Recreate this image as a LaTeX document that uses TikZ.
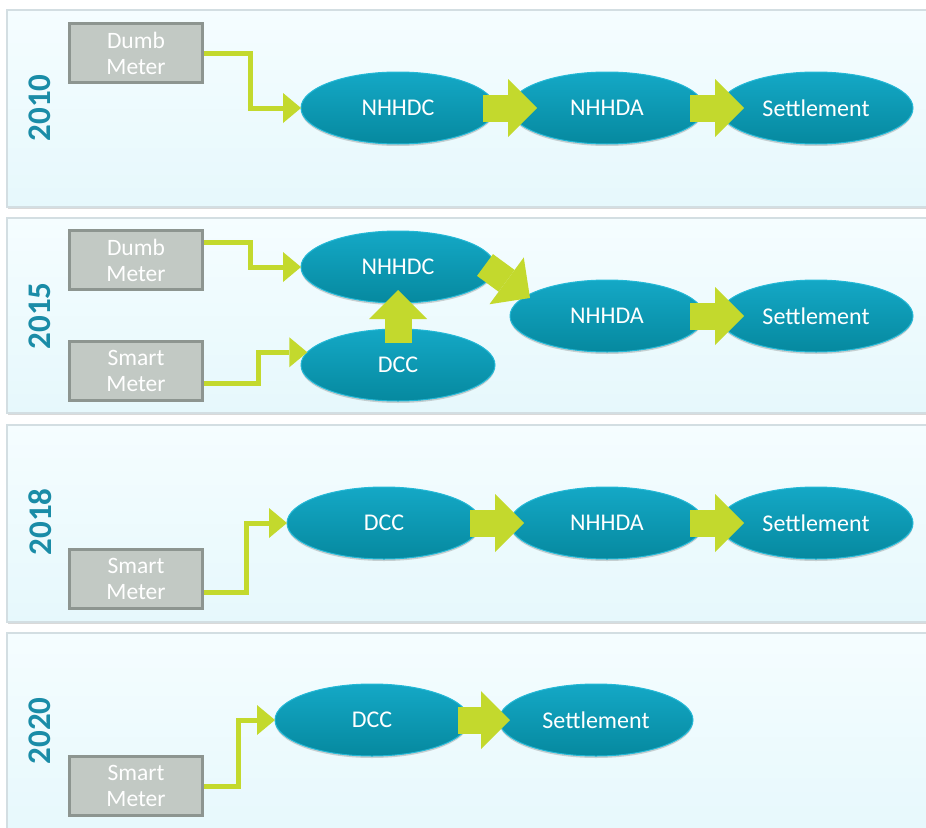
\documentclass[tikz,border=0pt]{standalone}
\usepackage{fontspec}
\setmainfont{Carlito}
\usetikzlibrary{arrows.meta,shadows,shapes.geometric,positioning}

\definecolor{panelTop}{HTML}{F5FDFF}
\definecolor{panelBot}{HTML}{E6F8FC}
\definecolor{panelLine}{HTML}{D3DEE2}
\definecolor{meterFill}{HTML}{C2C9C4}
\definecolor{meterLine}{HTML}{8D9590}
\definecolor{stageTop}{HTML}{14A8C6}
\definecolor{stageMid}{HTML}{0797B4}
\definecolor{stageBot}{HTML}{06899F}
\definecolor{stageRim}{HTML}{24B8D6}
\definecolor{flowCol}{HTML}{C3D92D}
\definecolor{yearCol}{HTML}{1A8CA7}

\tikzset{
	panel/.style={draw=panelLine, line width=1.2pt, top color=panelTop, bottom color=panelBot,
		drop shadow={opacity=0.3, shadow xshift=1pt, shadow yshift=-2pt}},
	meter/.style={draw=meterLine, fill=meterFill, line width=3pt, minimum width=133pt,
		minimum height=59pt, inner sep=0pt, align=center, text=white,
		font=\fontsize{23.5}{26}\selectfont},
	stage/.style={ellipse, minimum width=194pt, minimum height=72pt, inner sep=0pt, outer sep=0pt,
		draw=stageRim, line width=1pt,
		top color=stageTop, middle color=stageMid, bottom color=stageBot, text=white,
		font=\fontsize{24}{26}\selectfont,
		drop shadow={opacity=0.35, shadow xshift=0pt, shadow yshift=-2pt}},
	year/.style={rotate=90, text=yearCol, font=\fontsize{33}{33}\selectfont\bfseries},
	link/.style={draw=flowCol, line width=5pt, -{Triangle[length=18pt,width=30pt,line width=0pt]}},
	flow/.style={draw=flowCol, line width=27pt, -{Triangle[length=29pt,width=58pt,line width=0pt]}}
}

\begin{document}
\begin{tikzpicture}[x=1pt,y=-1pt]
	\useasboundingbox (0,0) rectangle (926,827);
	\clip (0,0) rectangle (926,827);

	% year panels
	\foreach \top/\bot in {10/207, 218/413, 425/622, 633/840}
		\path[panel] (7,\top) rectangle (940,\bot);

	\node[year] (y1) at (40,108) {2010};
	\node[year] (y2) at (40,316) {2015};
	\node[year] (y3) at (40,522) {2018};
	\node[year] (y4) at (40,731) {2020};

	% 2010
	\node[meter] (dm1) at (136,53) {Dumb\\Meter};
	\node[stage] (dc1) at (398,108) {NHHDC};
	\node[stage] (da1) at (607,108) {NHHDA};
	\node[stage] (st1) at (816,108) {Settlement};
	\draw[link] (dm1.east) -- ++(46,0) |- (dc1.west);
	\draw[flow] ([xshift=-12pt]dc1.east) -- ([xshift=27pt]da1.west);
	\draw[flow] ([xshift=-14pt]da1.east) -- ([xshift=25pt]st1.west);

	% 2015
	\node[meter] (dm2) at (136,260) {Dumb\\Meter};
	\node[meter] (sm2) at (136,371) {Smart\\Meter};
	\node[stage] (dcc2) at (398,365) {DCC};
	\node[stage] (dc2) at (398,267) {NHHDC};
	\node[stage] (da2) at (607,316) {NHHDA};
	\node[stage] (st2) at (816,316) {Settlement};
	\draw[link] ([yshift=18pt]dm2.east) -- ++(46,0) |- (dc2.west);
	\draw[link] ([yshift=-12pt]sm2.east) -- ++(54,0) |- (dcc2.172);
	\draw[flow] ([yshift=-14pt]dcc2.north) -- ([yshift=13pt]dc2.south);
	\draw[flow] ([xshift=-10pt,yshift=2pt]dc2.east) -- ([xshift=20pt,yshift=18pt]da2.west);
	\draw[flow] ([xshift=-14pt]da2.east) -- ([xshift=25pt]st2.west);

	% 2018
	\node[meter] (sm3) at (136,579) {Smart\\Meter};
	\node[stage] (dcc3) at (384,523) {DCC};
	\node[stage] (da3) at (607,523) {NHHDA};
	\node[stage] (st3) at (816,523) {Settlement};
	\draw[link] ([yshift=-13pt]sm3.east) -- ++(42,0) |- (dcc3.west);
	\draw[flow] ([xshift=-11pt]dcc3.east) -- ([xshift=14pt]da3.west);
	\draw[flow] ([xshift=-14pt]da3.east) -- ([xshift=25pt]st3.west);

	% 2020
	\node[meter] (sm4) at (136,786) {Smart\\Meter};
	\node[stage] (dcc4) at (372,720) {DCC};
	\node[stage] (st4) at (596,720) {Settlement};
	\draw[link] (sm4.east) -- ++(34,0) |- (dcc4.west);
	\draw[flow] ([xshift=-11pt]dcc4.east) -- ([xshift=11pt]st4.west);
\end{tikzpicture}
\end{document}
